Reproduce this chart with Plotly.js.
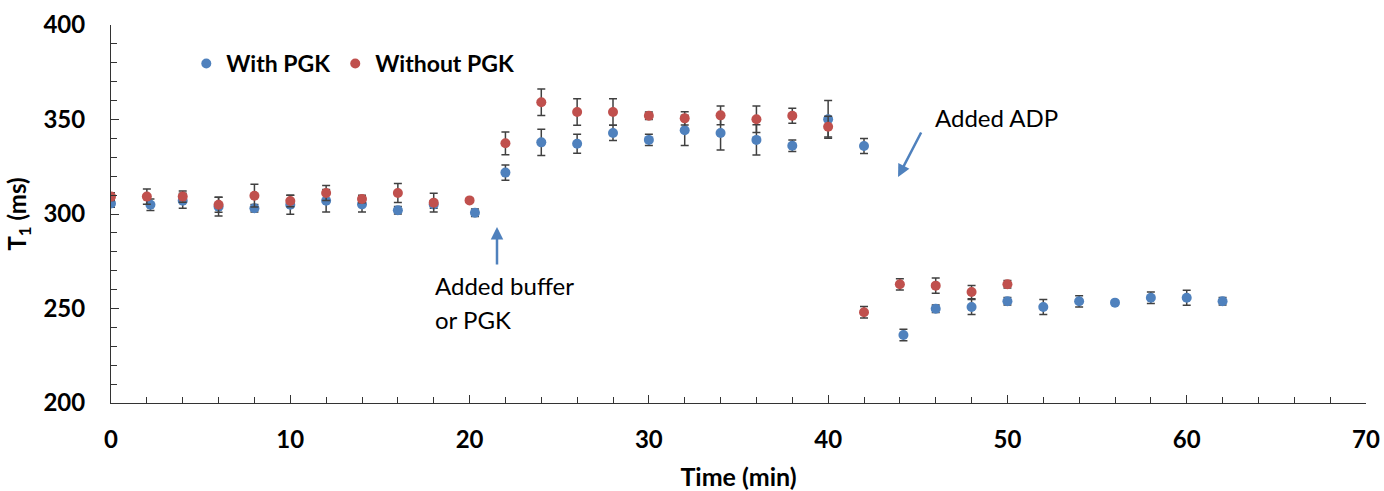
<!DOCTYPE html>
<html>
<head>
<meta charset="utf-8">
<script src="https://cdn.plot.ly/plotly-3.0.1.min.js"></script>
<style>html,body{margin:0;padding:0;background:#fff;}#chart{width:1384px;height:491px;}</style>
</head>
<body>
<div id="chart"></div>
<script>
// With PGK
const withTime = [0, 2.2, 4, 6, 8, 10, 12, 14, 16, 18, 20.3, 22, 24, 26, 28, 30, 32, 34, 36, 38, 40, 42, 44.2, 46, 48, 50, 52, 54, 56, 58, 60, 62];
const withT1   = [305.6, 304.9, 307, 303.9, 303, 304.9, 307, 305.1, 302, 305, 300.7, 321.9, 337.9, 337.2, 342.9, 339.2, 344.3, 342.9, 339.2, 336.1, 350.1, 336, 236, 249.9, 250.8, 253.8, 250.8, 253.8, 253.1, 255.7, 255.7, 253.8];
const withErr  = [2, 3, 4, 5, 2, 5, 6, 4, 2, 2, 2, 4, 7, 5, 4, 3, 8, 9, 8, 3, 10, 4, 3, 2, 4, 2, 4, 3, 1, 3, 4, 2];
// Without PGK
const woTime = [0, 2, 4, 6, 8, 10, 12, 14, 16, 18, 20, 22, 24, 26, 28, 30, 32, 34, 36, 38, 40, 42, 44, 46, 48, 50];
const woT1   = [309.2, 309.2, 309.2, 304.9, 309.7, 306.9, 311.1, 307.9, 311.1, 306, 307.2, 337.4, 359.1, 354, 354, 352, 350.6, 352.2, 350.1, 352, 346.2, 248, 262.8, 262.1, 258.7, 262.8];
const woErr  = [2, 4, 3, 4, 6, 3, 4, 2, 5, 5, 1, 6, 7, 7, 7, 2, 3.5, 5, 7, 4, 5.5, 3, 3, 4, 3.5, 2];

const blue = '#4F81BD', red = '#C0504D', errCol = '#404040';
const F = 'Lato, "Open Sans", sans-serif';

const errStyle = arr => ({type: 'data', array: arr, visible: true, color: errCol, thickness: 1.5, width: 4});

const traces = [
  {x: withTime, y: withT1, name: 'With PGK', mode: 'markers', type: 'scatter',
   marker: {color: blue, size: 10}, error_y: errStyle(withErr)},
  {x: woTime, y: woT1, name: 'Without PGK', mode: 'markers', type: 'scatter',
   marker: {color: red, size: 10}, error_y: errStyle(woErr)}
];

const layout = {
  width: 1384, height: 491,
  margin: {l: 111, r: 18, t: 25, b: 88},
  paper_bgcolor: '#fff', plot_bgcolor: '#fff',
  showlegend: true,
  legend: {orientation: 'h', x: 0.06, y: 0.955, xanchor: 'left', yanchor: 'top',
           font: {family: F, size: 23, color: '#000', weight: 'bold'}, itemwidth: 30,
           bgcolor: 'rgba(0,0,0,0)'},
  xaxis: {
    range: [0, 70], dtick: 10, tick0: 0, ticks: 'inside', ticklen: 8, tickwidth: 1, tickcolor: '#333',
    minor: {dtick: 2, ticks: 'inside', ticklen: 6, tickwidth: 1, tickcolor: '#333'},
    showline: true, linecolor: '#333', linewidth: 1, showgrid: false, zeroline: false,
    tickfont: {family: F, size: 24, color: '#000', weight: 'bold'}, ticklabelstandoff: 15,
    title: {text: 'Time (min)', font: {family: F, size: 25, color: '#000', weight: 'bold'}, standoff: 17}
  },
  yaxis: {
    range: [200, 400], dtick: 50, tick0: 200, ticks: 'inside', ticklen: 8, tickwidth: 1, tickcolor: '#333',
    minor: {dtick: 10, ticks: 'inside', ticklen: 6, tickwidth: 1, tickcolor: '#333'},
    showline: true, linecolor: '#333', linewidth: 1, showgrid: false, zeroline: false,
    tickfont: {family: F, size: 24, color: '#000', weight: 'bold'}, ticklabelstandoff: 20,
    title: {text: 'T<sub>1</sub> (ms)', font: {family: F, size: 24, color: '#000', weight: 'bold'}, standoff: 10}
  },
  annotations: [
    {x: 45.85, y: 350.8, xref: 'x', yref: 'y', text: 'Added ADP', showarrow: false, xanchor: 'left', yanchor: 'middle',
     font: {family: F, size: 24, color: '#000'}},
    {x: 17.96, y: 262, xref: 'x', yref: 'y', text: 'Added buffer', showarrow: false, xanchor: 'left', yanchor: 'middle',
     font: {family: F, size: 24, color: '#000'}},
    {x: 17.96, y: 244, xref: 'x', yref: 'y', text: 'or PGK', showarrow: false, xanchor: 'left', yanchor: 'middle',
     font: {family: F, size: 24, color: '#000'}},
    {x: 43.9, y: 319.6, xref: 'x', yref: 'y', ax: 45.23, ay: 343.9, axref: 'x', ayref: 'y', text: '',
     showarrow: true, arrowhead: 2, arrowsize: 1, arrowwidth: 2.5, arrowcolor: blue},
    {x: 21.53, y: 293.1, xref: 'x', yref: 'y', ax: 21.53, ay: 272.5, axref: 'x', ayref: 'y', text: '',
     showarrow: true, arrowhead: 2, arrowsize: 1, arrowwidth: 2.5, arrowcolor: blue}
  ]
};

Plotly.newPlot('chart', traces, layout, {displayModeBar: false, staticPlot: true});
</script>
</body>
</html>
